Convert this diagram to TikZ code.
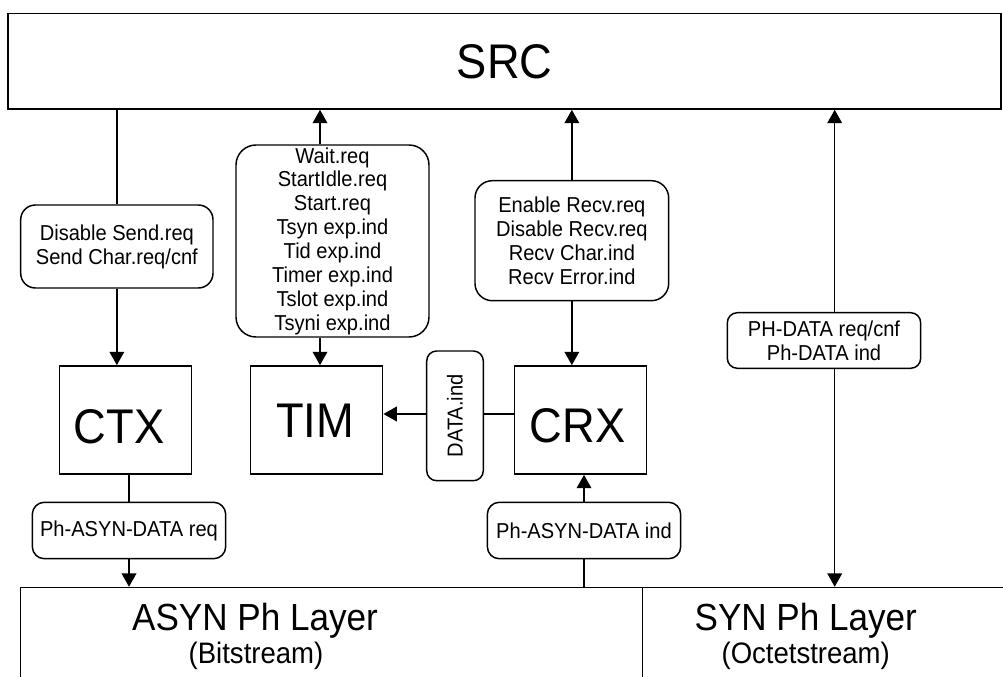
\documentclass[tikz,border=0pt]{standalone}
\usepackage{fontspec}
\setmainfont{Liberation Sans}[FakeStretch=0.93]
\usetikzlibrary{arrows.meta}
\begin{document}
\begin{tikzpicture}[x=0.75pt,y=-0.75pt,
  line width=1.1pt,
  plainbox/.style={draw, inner sep=0pt},
  sq/.style={draw, inner sep=0pt, minimum width=99pt, minimum height=81.2pt},
  lbl/.style={draw, inner sep=0pt, align=center, font=\fontsize{16.2}{17.9}\selectfont},
  lbltext/.style={inner sep=0pt, font=\fontsize{16.2}{17.9}\selectfont},
  big/.style={inner sep=0pt, font=\fontsize{36.5}{40}\selectfont},
  lay/.style={inner sep=0pt, anchor=base, font=\fontsize{28.3}{32}\selectfont},
  sub/.style={inner sep=0pt, anchor=base, font=\fontsize{22.2}{26}\selectfont},
  arr/.style={-{Triangle[length=10pt,width=11pt]}},
  ln/.style={}]
\useasboundingbox (0,0) rectangle (1003,677);
\fill[white] (0,0) rectangle (1003,677);
\clip (0,0) rectangle (1003,677);

% top layer
\node[plainbox, minimum width=744.75pt, minimum height=71.8pt] (src) at (504.5,61.2) {};
\node[big] (srct) at (504.6,62.2) {SRC};

% label boxes
\node[lbl, rounded corners=11pt, minimum width=144.2pt, minimum height=62.25pt] (ds) at (116.85,246.5) {Disable Send.req\\Send Char.req/cnf};
\node[lbl, rounded corners=15pt, minimum width=144.75pt, minimum height=144pt] (wait) at (332.5,241) {Wait.req\\StartIdle.req\\Start.req\\Tsyn exp.ind\\Tid exp.ind\\Timer exp.ind\\Tslot exp.ind\\Tsyni exp.ind};
\node[lbl, rounded corners=13pt, minimum width=145.3pt, minimum height=90pt] (recv) at (571.85,240.7) {Enable Recv.req\\Disable Recv.req\\Recv Char.ind\\Recv Error.ind};
\node[lbl, rounded corners=7.5pt, minimum width=145pt, minimum height=41.7pt] (phd) at (824,340.5) {PH-DATA req/cnf\\Ph-DATA ind};

% middle entities
\node[sq] (ctx) at (125.35,420) {};
\node[big] (ctxt) at (119.2,426.5) {CTX};
\node[sq] (tim) at (316.7,420) {};
\node[big] (timt) at (315.3,420.9) {TIM};
\node[sq] (crx) at (580.35,420) {};
\node[big] (crxt) at (577.5,426) {CRX};
\node[lbl, rounded corners=7.5pt, minimum width=42.45pt, minimum height=97.3pt] (data) at (455,415.85) {};
\node[lbltext, rotate=90] (datat) at (455,415.85) {DATA.ind};

% lower label boxes
\node[lbl, rounded corners=9pt, minimum width=145pt, minimum height=42.3pt] (preq) at (129,530.5) {Ph-ASYN-DATA req};
\node[lbl, rounded corners=9pt, minimum width=145pt, minimum height=42.3pt] (pind) at (584,530.5) {Ph-ASYN-DATA ind};

% physical layers
\node[plainbox, minimum width=466.5pt, minimum height=84.4pt] (asyn) at (331.7,643.75) {};
\node[plainbox, minimum width=279.2pt, minimum height=84.4pt] (syn) at (828.85,643.75) {};
\node[lay] (asynt) at (255,630.7) {ASYN Ph Layer};
\node[sub] (asyns) at (256,663) {(Bitstream)};
\node[lay] (synt) at (805.8,630.7) {SYN Ph Layer};
\node[sub] (syns) at (805.7,663) {(Octetstream)};

% helper coordinates
\coordinate (xw) at (320,0);
\coordinate (xr) at (834.7,0);
\coordinate (yh) at (0,414);

% connectors
\draw[ln] (ds.north) -- (ds.north |- src.south);
\draw[arr] (ds.south) -- (ds.south |- ctx.north);
\draw[arr] (xw |- wait.north) -- (xw |- src.south);
\draw[arr] (xw |- wait.south) -- (xw |- tim.north);
\draw[arr] (recv.north) -- (recv.north |- src.south);
\draw[arr] (recv.south) -- (recv.south |- crx.north);
\draw[arr] (xr |- phd.north) -- (xr |- src.south);
\draw[arr] (xr |- phd.south) -- (xr |- syn.north);
\draw[arr] (yh -| data.west) -- (yh -| tim.east);
\draw[ln] (yh -| crx.west) -- (yh -| data.east);
\draw[ln] (preq.north) -- (preq.north |- ctx.south);
\draw[arr] (preq.south) -- (preq.south |- asyn.north);
\draw[arr] (pind.north) -- (pind.north |- crx.south);
\draw[ln] (pind.south) -- (pind.south |- asyn.north);
\end{tikzpicture}
\end{document}
